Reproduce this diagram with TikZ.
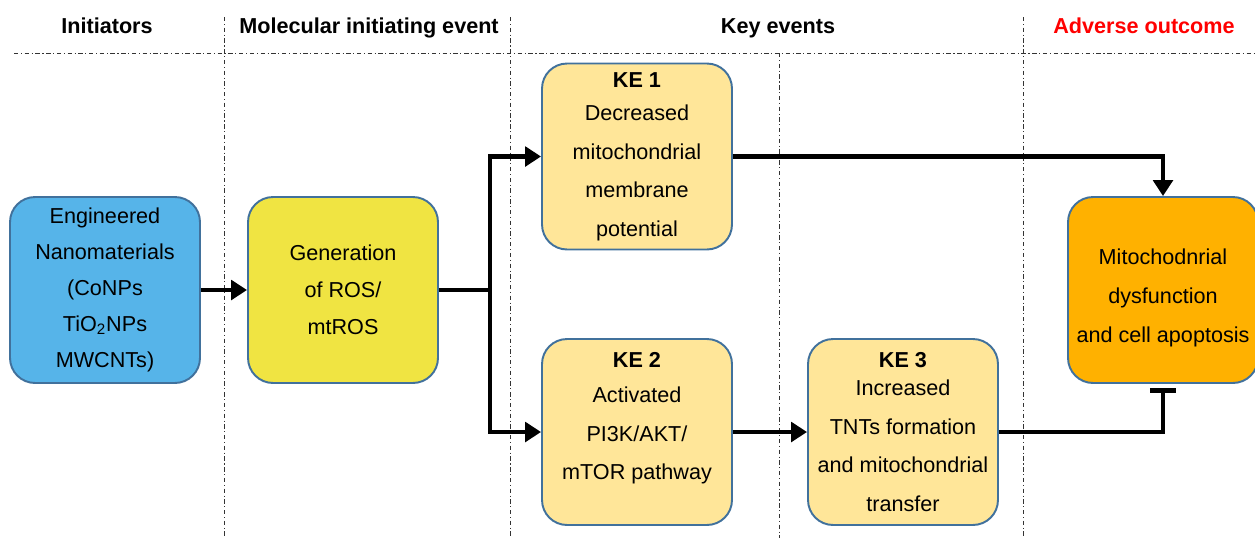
\documentclass[tikz,border=0pt]{standalone}
\usepackage{fontspec}
\setmainfont{Liberation Sans}
\usepackage{tikz}
\usetikzlibrary{arrows.meta}

\definecolor{nanoblue}{RGB}{86,180,233}
\definecolor{rosyellow}{RGB}{240,228,66}
\definecolor{kefill}{RGB}{255,230,153}
\definecolor{aofill}{RGB}{255,177,0}
\definecolor{boxline}{RGB}{65,113,156}

\begin{document}
\begin{tikzpicture}[x=0.02cm, y=-0.02cm,
    every node/.style={font=\fontsize{12.3}{21}\selectfont, align=center},
    caja/.style={draw=boxline, line width=1.1pt, rounded corners=0.5cm,
                 minimum width=3.8cm, minimum height=3.72cm, inner sep=2pt},
    kecaja/.style={caja, fill=kefill, font=\fontsize{12.3}{22}\selectfont},
    titulo/.style={font=\bfseries\fontsize{12.3}{15}\selectfont, anchor=base},
    separador/.style={line width=0.5pt, black!80,
                      dash pattern=on 2.5pt off 1.5pt on 0.6pt off 1.5pt},
    flecha/.style={line width=2.5pt, -{Triangle[length=9pt,width=11pt]}},
    linea/.style={line width=2.5pt},
    inhibe/.style={line width=2.5pt, -{Bar[width=15pt,line width=2.8pt]}}]
    \useasboundingbox (0,0) rectangle (1255,538);

    % Encabezados
    \node[titulo] (hini) at (107,33) {Initiators};
    \node[titulo] (hmie) at (369,33) {Molecular initiating event};
    \node[titulo] (hke)  at (778,33) {Key events};
    \node[titulo, text=red] (hao) at (1144,33) {Adverse outcome};

    % Separadores
    \draw[separador] (14,53) -- (1255,53);
    \draw[separador] (224,17) -- (224,538);
    \draw[separador] (510,17) -- (510,538);
    \draw[separador] (779,53) -- (779,538);
    \draw[separador] (1023,17) -- (1023,538);

    % Nodos
    \node[caja, fill=nanoblue, font=\fontsize{12.3}{20.4}\selectfont] (nano) at (105,290)
        {Engineered\\Nanomaterials\\(CoNPs\\TiO\textsubscript{2}NPs\\MWCNTs)};
    \node[caja, fill=rosyellow] (ros) at (343,290) {Generation\\of ROS/\\mtROS};
    \node[kecaja] (ke1) at (637,156.5)
        {\textbf{KE 1}\\[-3pt]Decreased\\mitochondrial\\membrane\\potential};
    \node[kecaja] (ke2) at (637,432)
        {\textbf{KE 2}\\[-2pt]Activated\\PI3K/AKT/\\mTOR pathway\\[-4pt]\mbox{}};
    \node[kecaja] (ke3) at (903,432)
        {\textbf{KE 3}\\[-6pt]Increased\\TNTs formation\\and mitochondrial\\transfer};
    \node[caja, fill=aofill, font=\fontsize{12.3}{22}\selectfont] (ao) at (1163,290)
        {\mbox{}\\[-4pt]Mitochodnrial\\dysfunction\\and cell apoptosis};

    % Puntos de quiebre
    \coordinate (split) at (490,290);
    \coordinate (tope) at (1163,388);

    % Aristas
    \draw[flecha] (nano) -- (ros);
    \draw[linea] (ros.east) -- (split);
    \draw[flecha] (split) |- (ke1.west);
    \draw[flecha] (split) |- (ke2.west);
    \draw[flecha] (ke1.east) -| (ao.north);
    \draw[flecha] (ke2) -- (ke3);
    \draw[inhibe] (ke3.east) -| (tope);
\end{tikzpicture}
\end{document}
